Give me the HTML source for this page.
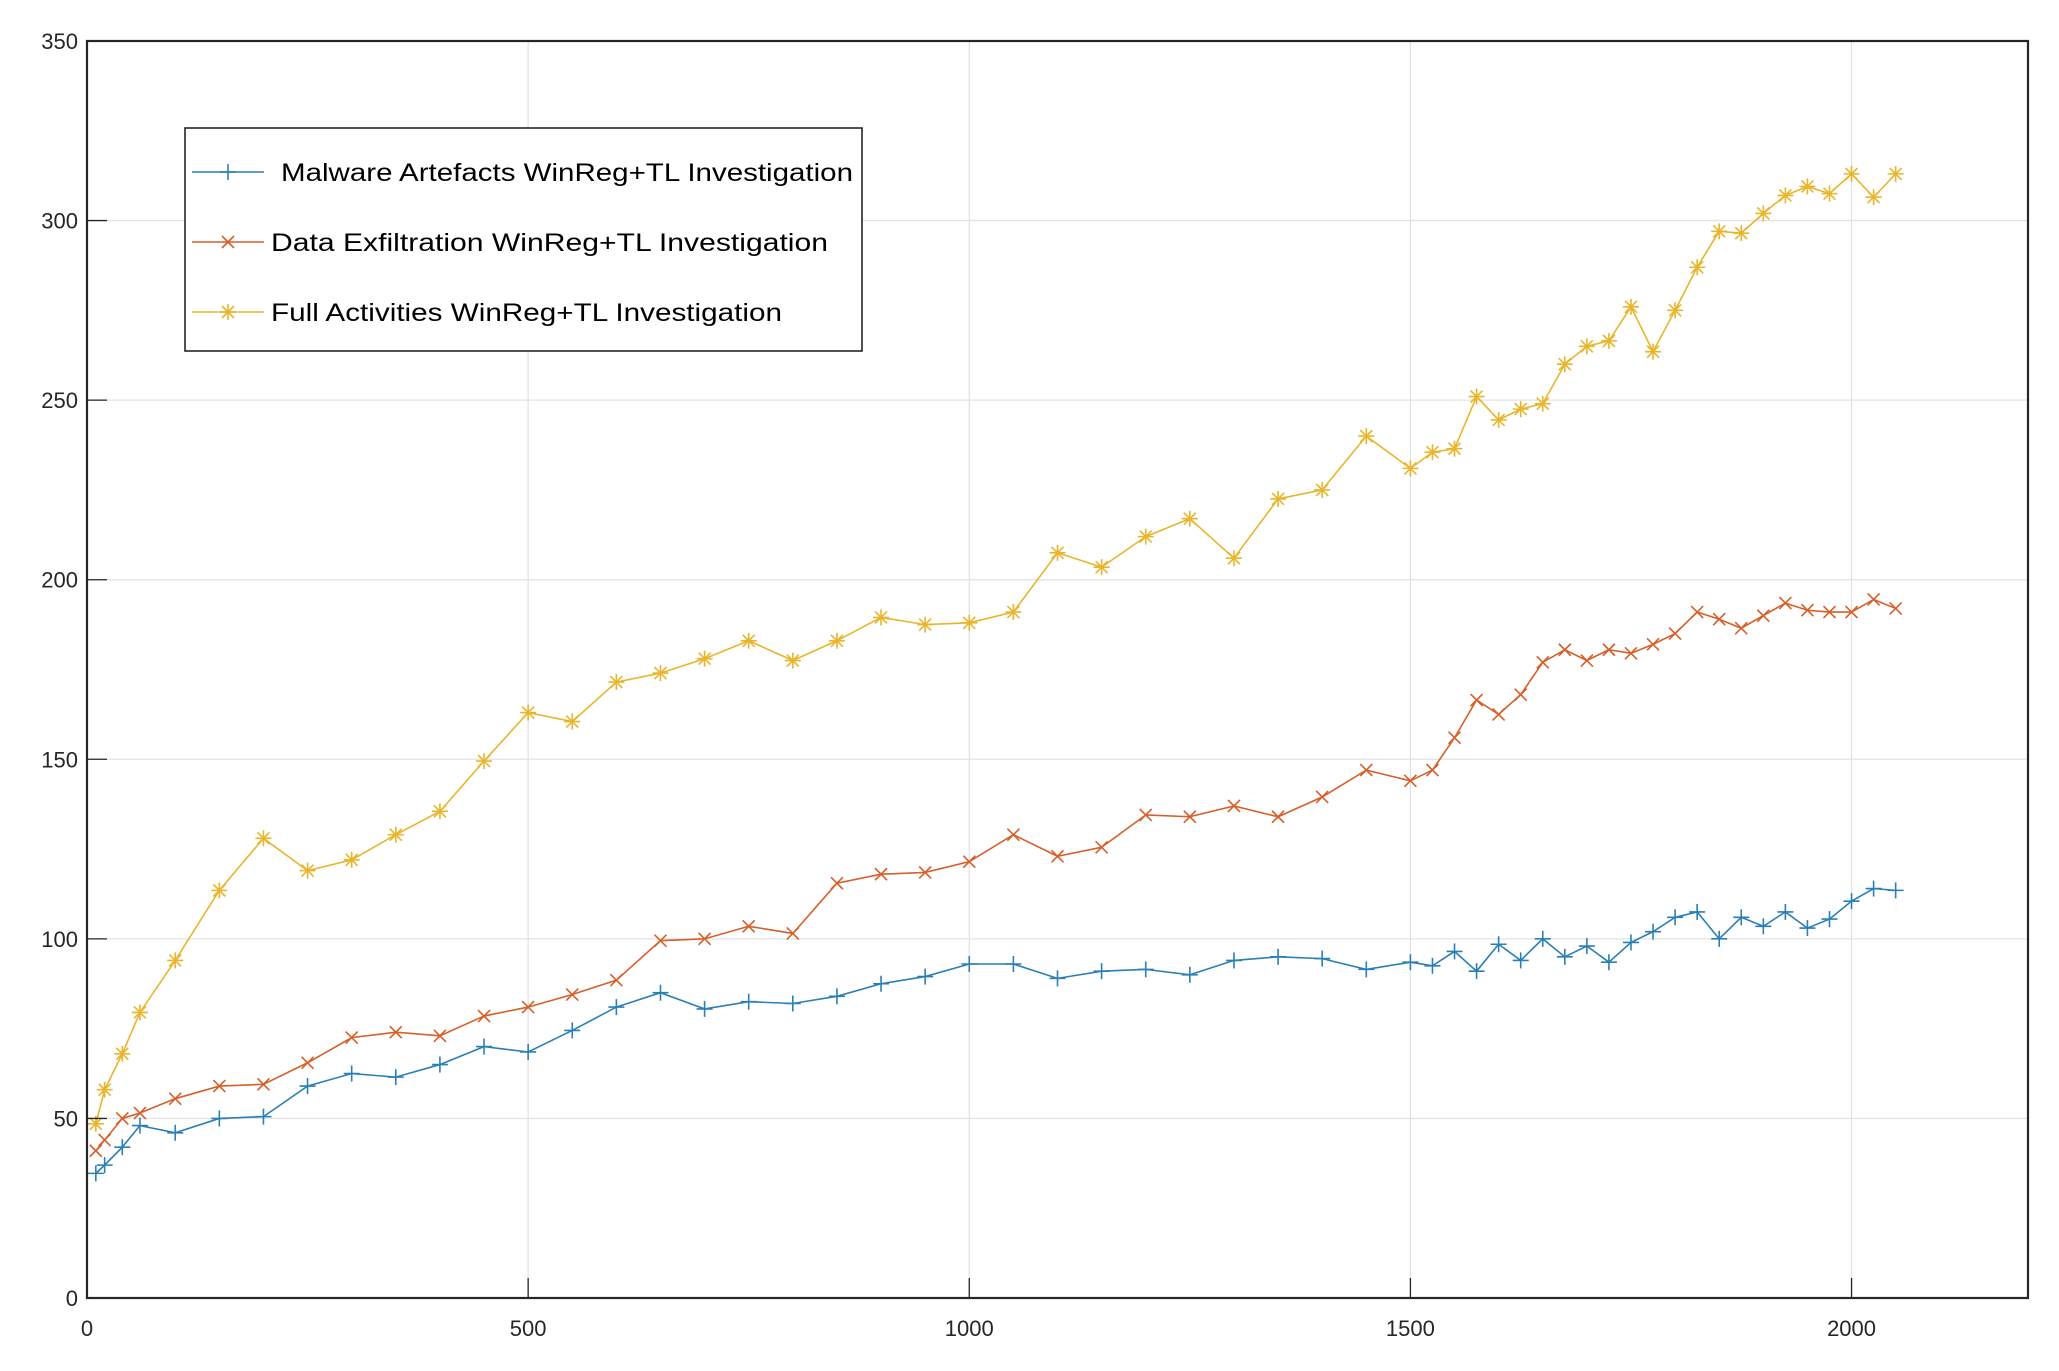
<!DOCTYPE html>
<html><head><meta charset="utf-8"><style>
html,body{margin:0;padding:0;background:#fff;}
svg{display:block;font-family:"Liberation Sans",sans-serif;}
</style></head><body>
<svg id="chart" width="2059" height="1371" xmlns="http://www.w3.org/2000/svg">
<rect width="2059" height="1371" fill="#fff"/>
<g id="grid"></g>
<g id="series"></g>
<g id="axes"></g>
<g id="legend"></g>
</svg>
<script>
const xValues = [10,20,40,60,100,150,200,250,300,350,400,450,500,550,600,650,700,750,800,850,900,950,1000,1050,1100,1150,1200,1250,1300,1350,1400,1450,1500,1525,1550,1575,1600,1625,1650,1675,1700,1725,1750,1775,1800,1825,1850,1875,1900,1925,1950,1975,2000,2025,2050];
const malware = [34.7,37,42,48,46,50,50.5,59,62.5,61.5,65,70,68.5,74.5,81,85,80.5,82.5,82,84,87.5,89.5,93,93,89,91,91.5,90,94,95,94.5,91.5,93.5,92.5,96.5,91,98.5,94,100,95,98,93.5,99,102,106,107.5,100,106,103.5,107.5,103,105.5,110.5,114,113.5];
const exfil = [41,44,50,51.5,55.5,59,59.5,65.5,72.5,74,73,78.5,81,84.5,88.5,99.5,100,103.5,101.5,115.5,118,118.5,121.5,129,123,125.5,134.5,134,137,134,139.5,147,144,147,156,166.5,162.5,168,177,180.5,177.5,180.5,179.5,182,185,191,189,186.5,190,193.5,191.5,191,191,194.5,192];
const full = [48.5,58,68,79.5,94,113.5,128,119,122,129,135.5,149.5,163,160.5,171.5,174,178,183,177.5,183,189.5,187.5,188,191,207.5,203.5,212,217,206,222.5,225,240,231,235.5,236.5,251,244.5,247.5,249,260,265,266.5,276,263.5,275,287,297,296.5,302,307,309.5,307.5,313,306.5,313];
const xTicks = [0,500,1000,1500,2000];
const yTicks = [0,50,100,150,200,250,300,350];
const seriesNames = ["Malware Artefacts WinReg+TL Investigation","Data Exfiltration WinReg+TL Investigation","Full Activities WinReg+TL Investigation"];

const NS="http://www.w3.org/2000/svg";
const L=87,R=2028,T=41,B=1298,XMAX=2200,YMAX=350;
const sx=v=>L+(v/XMAX)*(R-L);
const sy=v=>B-(v/YMAX)*(B-T);
function mk(tag,attrs,parent){const e=document.createElementNS(NS,tag);for(const k in attrs)e.setAttribute(k,attrs[k]);parent.appendChild(e);return e;}
const grid=document.getElementById('grid'),axes=document.getElementById('axes'),ser=document.getElementById('series'),leg=document.getElementById('legend');

xTicks.forEach(t=>{
  const g=mk('line',{x1:sx(t),x2:sx(t),y1:T,y2:B,stroke:'#e3e3e3','stroke-width':1.3},grid);
  
  
  const tk=mk('line',{x1:sx(t),x2:sx(t),y1:B,y2:B-20,stroke:'#262626','stroke-width':1.3},axes);
  
  
  const tx=mk('text',{x:sx(t),y:1336,'text-anchor':'middle','font-size':22,fill:'#262626'},axes);
  tx.textContent=t;
  
  
});
yTicks.forEach(t=>{
  const g=mk('line',{x1:L,x2:R,y1:sy(t),y2:sy(t),stroke:'#e3e3e3','stroke-width':1.3},grid);
  
  
  const tk=mk('line',{x1:L,x2:L+20,y1:sy(t),y2:sy(t),stroke:'#262626','stroke-width':1.3},axes);
  
  
  const tx=mk('text',{x:78,y:sy(t)+8,'text-anchor':'end','font-size':22,fill:'#262626'},axes);
  tx.textContent=t;
  
  
});
const box=mk('rect',{x:L,y:T,width:R-L,height:B-T,fill:'none',stroke:'#262626','stroke-width':2.2},axes);



function marker(type,x,y,color,parent){
  const g=mk('g',{stroke:color,'stroke-width':1.6,fill:'none'},parent);
  const s=8;
  if(type==='plus'){mk('line',{x1:x-s,x2:x+s,y1:y,y2:y},g);mk('line',{x1:x,x2:x,y1:y-s,y2:y+s},g);}
  else if(type==='x'){const d=s*0.75;mk('line',{x1:x-d,x2:x+d,y1:y-d,y2:y+d},g);mk('line',{x1:x-d,x2:x+d,y1:y+d,y2:y-d},g);}
  else {const d=s*0.75;mk('line',{x1:x-s,x2:x+s,y1:y,y2:y},g);mk('line',{x1:x,x2:x,y1:y-s,y2:y+s},g);mk('line',{x1:x-d,x2:x+d,y1:y-d,y2:y+d},g);mk('line',{x1:x-d,x2:x+d,y1:y+d,y2:y-d},g);}
  return g;
}
const defs=[[malware,'#2a7fb4','plus','malware-series'],[exfil,'#d65f2a','x','exfiltration-series'],[full,'#e8b52c','star','full-activities-series']];
defs.forEach(([vals,color,mt,name])=>{
  const g=mk('g',{},ser);
  
  
  const pts=vals.map((v,i)=>sx(xValues[i])+','+sy(v)).join(' ');
  const pl=mk('polyline',{points:pts,fill:'none',stroke:color,'stroke-width':1.6},g);
  
  
  vals.forEach((v,i)=>{
    const m=marker(mt,sx(xValues[i]),sy(v),color,g);
    
    
  });
});

const lb=mk('rect',{x:185,y:128,width:677,height:223,fill:'#fff',stroke:'#262626','stroke-width':1.6},leg);


const rows=[172,242,312],tstart=[281,271,271],tlen=[572,557,511];
defs.forEach(([vals,color,mt,name],i)=>{
  const g=mk('g',{},leg);
  
  
  mk('line',{x1:192,x2:264,y1:rows[i],y2:rows[i],stroke:color,'stroke-width':1.6},g);
  marker(mt,228,rows[i],color,g);
  const t=mk('text',{x:tstart[i],y:rows[i]+9,'font-size':25,fill:'#000',textLength:tlen[i],lengthAdjust:'spacingAndGlyphs'},g);
  t.textContent=seriesNames[i];
  
  
});
</script>
</body></html>
